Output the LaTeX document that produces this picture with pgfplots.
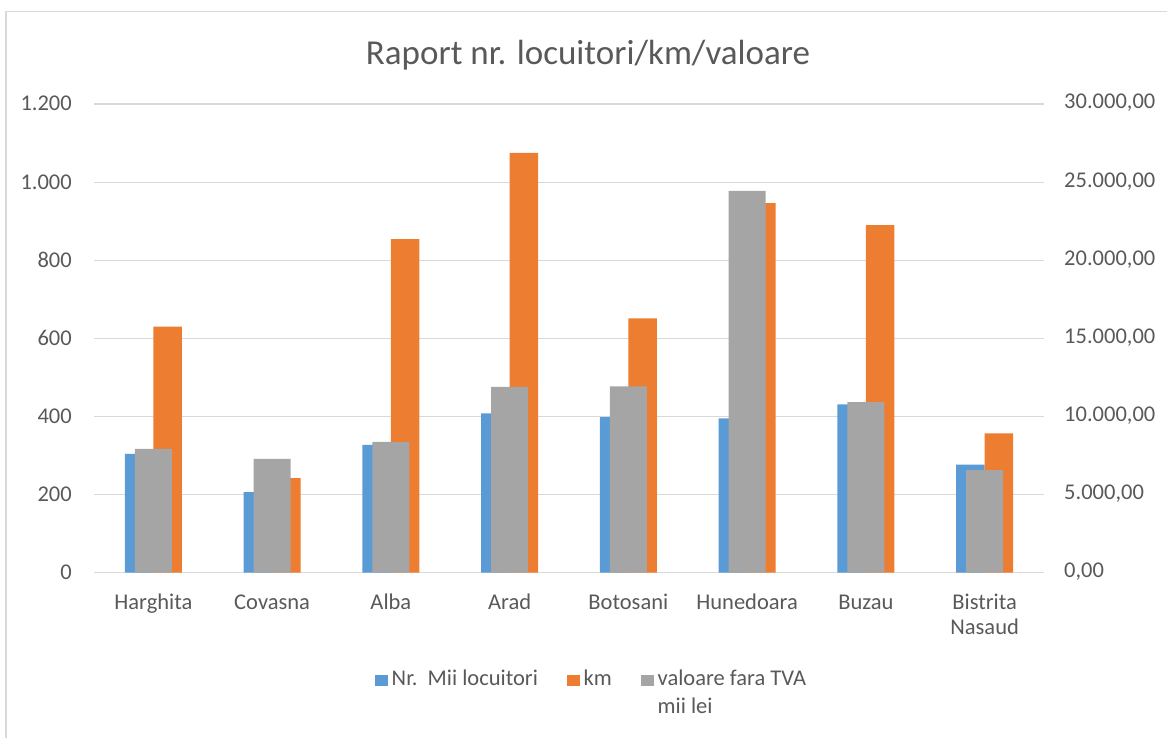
\documentclass[border=0pt]{standalone}
\usepackage{fontspec}
\setmainfont{Carlito}
\usepackage{pgfplots}
\pgfplotsset{compat=1.18}
\definecolor{cblue}{HTML}{5B9BD5}
\definecolor{corange}{HTML}{ED7D31}
\definecolor{cgray}{HTML}{A5A5A5}
\definecolor{gridc}{HTML}{D9D9D9}
\definecolor{txt}{HTML}{595959}
\pgfplotsset{
  common/.style={
    scale only axis, width=950pt, height=468.7pt,
    at={(94pt,165.3pt)}, anchor=south west,
    xmin=-0.5, xmax=7.5,
    axis line style={draw=none},
    tick style={draw=none},
    major tick length=0pt,
    ymin=0,
    /pgf/number format/assume math mode=true,
    tick label style={font=\fontsize{22.5}{25}\selectfont, text=txt},
    clip=false,
  },
  sqlegend/.style={legend image code/.code={\fill[##1] (0pt,-0.3pt) rectangle (13pt,10.7pt);}},
}
\begin{document}
\begin{tikzpicture}
\begin{axis}[common,
  ymax=1200, ytick={0,200,...,1200},
  yticklabels={0,200,400,600,800,1.000,1.200},
  ymajorgrids, grid style={color=gridc, line width=1.2pt},
  yticklabel style={anchor=base east, inner sep=0pt, xshift=-22pt, yshift=-7pt},
  xtick={0,...,7},
  xticklabels={Harghita, Covasna, Alba, Arad, Botosani, Hunedoara, Buzau, {\begin{tabular}[t]{@{}c@{}}Bistrita\\Nasaud\end{tabular}}},
  xticklabel style={anchor=base, inner sep=0pt, yshift=-37.3pt},
  every axis title shift=0pt,
  title={Raport nr. locuitori/km/valoare},
  title style={at={(0.52,1.0853)}, anchor=base, yshift=0pt, inner sep=0pt, font=\fontsize{35}{40}\selectfont, text=txt},
]
\addplot[ybar, bar width=28.5pt, bar shift=-14.25pt, fill=cblue, draw=none]
  coordinates {(0,304) (1,206) (2,327) (3,408) (4,398) (5,395) (6,431) (7,277)};
\addplot[ybar, bar width=28.5pt, bar shift=14.25pt, fill=corange, draw=none]
  coordinates {(0,630) (1,242) (2,854) (3,1075) (4,651) (5,946) (6,890) (7,357)};
\end{axis}
\begin{axis}[common,
  ymax=30000, ytick={0,5000,...,30000},
  axis x line=none, axis y line*=right,
  xtick=\empty,
  scaled y ticks=false,
  yticklabel style={anchor=base west, inner sep=0pt, xshift=20pt, yshift=-5pt,
     /pgf/number format/fixed, /pgf/number format/fixed zerofill,
     /pgf/number format/precision=2, /pgf/number format/use comma},
  legend columns=3,
  legend style={at={(0.2958,-0.1999)}, anchor=north west, draw=none, fill=none,
    inner sep=0pt, outer sep=0pt, font=\fontsize{22.5}{27.6}\selectfont, text=txt,
    cells={anchor=base west}, nodes={inner sep=0pt},
    /tikz/every odd column/.append style={column sep=3.7pt},
    /tikz/every even column/.append style={column sep=29pt}},
  sqlegend,
]
\addlegendimage{sqlegend, fill=cblue, draw=none}
\addlegendentry{Nr.\ \ Mii locuitori}
\addlegendimage{sqlegend, fill=corange, draw=none}
\addlegendentry{km}
\addplot[ybar, bar width=37pt, bar shift=0pt, fill=cgray, draw=none, sqlegend]
  coordinates {(0,7918) (1,7278) (2,8366) (3,11886) (4,11930) (5,24432) (6,10913) (7,6561)};
\addlegendentry{\begin{tabular}[t]{@{}l@{}}valoare fara TVA\\mii lei\end{tabular}}
\end{axis}
\draw[color=gridc, line width=1.3pt] (6pt,0pt) -- (6pt,726.3pt) -- (1167pt,726.3pt);
\pgfresetboundingbox
\path (0pt,0pt) rectangle (1167pt,738pt);
\end{tikzpicture}
\end{document}
